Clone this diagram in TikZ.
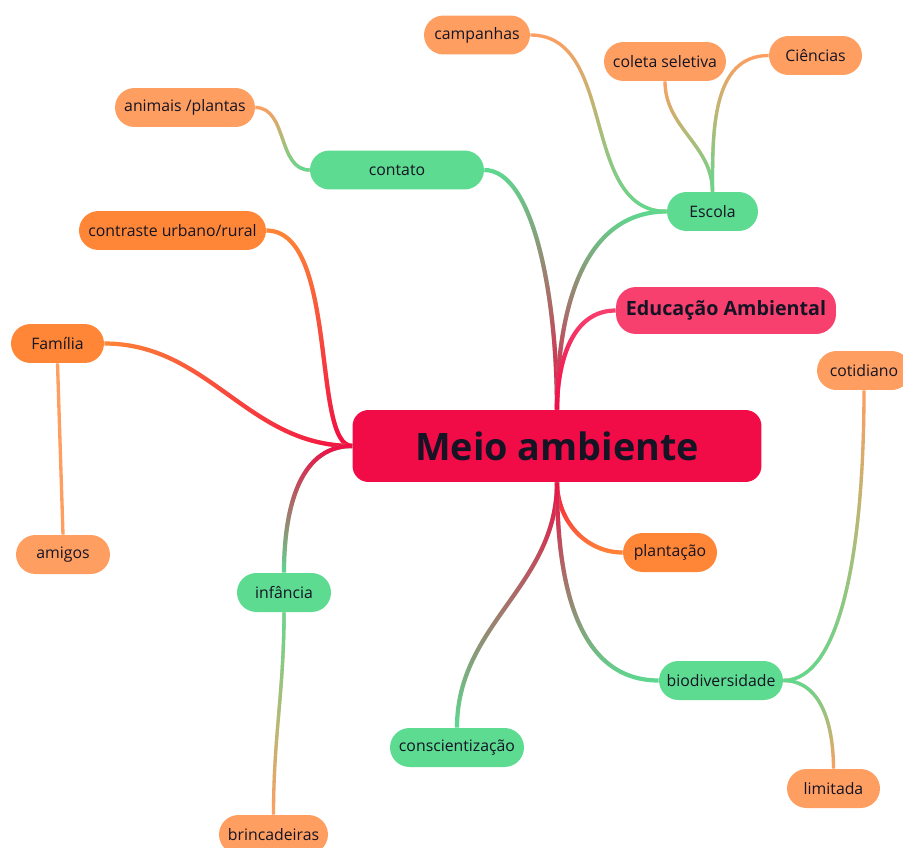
\documentclass[tikz,border=0pt]{standalone}
\usepackage{fontspec}
\setmainfont{Open Sans}
\usetikzlibrary{fadings}

\definecolor{hubred}{HTML}{F20C47}
\definecolor{eapink}{HTML}{F7406E}
\definecolor{leafgreen}{HTML}{5CDB91}
\definecolor{deeporange}{HTML}{FF8636}
\definecolor{softorange}{HTML}{FF9E61}
\definecolor{inkdark}{HTML}{141424}

\tikzset{
	idea/.style={rounded corners=0.39cm, minimum height=0.78cm, inner sep=0pt, text=inkdark, font=\fontsize{9}{11}\selectfont},
	greenbox/.style={idea, fill=leafgreen},
	orangebox/.style={idea, fill=deeporange},
	peachbox/.style={idea, fill=softorange},
	limb/.style={line width=2.4pt},
	twig/.style={line width=1.9pt},
	blend/.style 2 args={postaction={draw, #1, path fading=#2}},
}

\begin{document}
\begin{tikzpicture}[x=0.02cm, y=0.02cm]
		\useasboundingbox (0,0) rectangle (903,-848);
		
		% centre and first ring
		\node[fill=hubred, rounded corners=0.32cm, minimum width=8.18cm, minimum height=1.44cm, text=inkdark, font=\fontsize{21.5}{25}\selectfont\bfseries] (hub) at (557,-446) {Meio ambiente};
		\node[fill=eapink, rounded corners=0.4cm, minimum width=4.4cm, minimum height=0.94cm, text=inkdark, font=\fontsize{11.2}{13}\selectfont\bfseries] (ea) at (726,-310.5) {Educação Ambiental};
		\node[greenbox, minimum width=3.48cm] (contato) at (397,-170) {contato};
		\node[greenbox, minimum width=1.82cm] (escola) at (712.5,-211.5) {Escola};
		\node[orangebox, minimum width=3.74cm] (contraste) at (172.5,-230.5) {contraste urbano/rural};
		\node[orangebox, minimum width=1.86cm] (familia) at (57.5,-343.5) {Família};
		\node[greenbox, minimum width=1.88cm] (infancia) at (284,-592.5) {infância};
		\node[greenbox, minimum width=2.68cm] (consc) at (457,-747.5) {conscientização};
		\node[orangebox, minimum width=1.88cm] (plantacao) at (670,-552.5) {plantação};
		\node[greenbox, minimum width=2.48cm] (biodiv) at (721,-680.5) {biodiversidade};
		
		% second ring
		\node[peachbox, minimum width=2.8cm] (animais) at (185,-107.5) {animais /plantas};
		\node[peachbox, minimum width=2.12cm] (campanhas) at (477,-35) {campanhas};
		\node[peachbox, minimum width=2.44cm] (coleta) at (665,-61.5) {coleta seletiva};
		\node[peachbox, minimum width=1.86cm] (ciencias) at (815.5,-55.5) {Ciências};
		\node[peachbox, minimum width=1.88cm] (amigos) at (63,-554.5) {amigos};
		\node[peachbox, minimum width=2.18cm] (brinc) at (273.5,-834.5) {brincadeiras};
		\node[peachbox, minimum width=1.88cm] (cotidiano) at (864,-370.5) {cotidiano};
		\node[peachbox, minimum width=1.86cm] (limitada) at (833.5,-788.5) {limitada};
		
		\draw[limb, leafgreen, blend={hubred}{north}] (hub.north) .. controls +(0,110) and +(50,0) .. (contato.east);
		\draw[limb, leafgreen, blend={hubred}{north}] (hub.north) to[out=90, in=180] (escola.west);
		\draw[limb, eapink, blend={hubred}{north}] (hub.north) to[out=90, in=180] (ea.west);
		\draw[limb, deeporange, blend={hubred}{north}] (hub.west) to[out=180, in=0, out looseness=0.45, in looseness=0.8] (contraste.east);
		\draw[limb, deeporange, blend={hubred}{west}] (hub.west) to[out=180, in=0] (familia.east);
		\draw[limb, leafgreen, blend={hubred}{south}] (hub.west) to[out=180, in=90] (infancia.north);
		\draw[limb, leafgreen, blend={hubred}{south}] (hub.south) to[out=-90, in=90] (consc.north);
		\draw[limb, deeporange, blend={hubred}{south}] (hub.south) to[out=-90, in=180] (plantacao.west);
		\draw[limb, leafgreen, blend={hubred}{south}] (hub.south) to[out=-90, in=180] (biodiv.west);
		
		\draw[twig, softorange, blend={leafgreen}{north}] (contato.west) to[out=180, in=0] (animais.east);
		\draw[twig, softorange, blend={leafgreen}{north}] (escola.west) to[out=180, in=0] (campanhas.east);
		\draw[twig, softorange, blend={leafgreen}{north}] (escola.north) to[out=90, in=-90] (coleta.south);
		\draw[twig, softorange, blend={leafgreen}{north}] (escola.north) to[out=90, in=180] (ciencias.west);
		\draw[twig, softorange] (familia.south) -- (amigos.north);
		\draw[twig, softorange, blend={leafgreen}{south}] (infancia.south) to[out=-90, in=90] (brinc.north);
		\draw[twig, softorange, blend={leafgreen}{north}] (biodiv.east) to[out=0, in=-90, out looseness=0.5, in looseness=1.3] (cotidiano.south);
		\draw[twig, softorange, blend={leafgreen}{south}] (biodiv.east) to[out=0, in=90] (limitada.north);
\end{tikzpicture}
\end{document}
